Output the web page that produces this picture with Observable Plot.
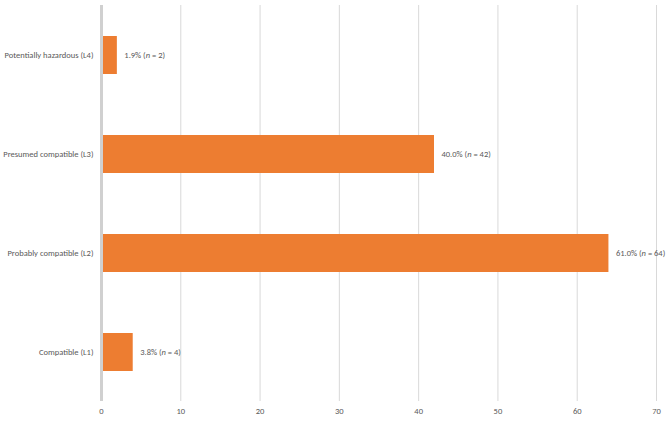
<!DOCTYPE html>
<html><head><meta charset="utf-8">
<script src="https://cdn.jsdelivr.net/npm/d3@7"></script>
<script src="https://cdn.jsdelivr.net/npm/@observablehq/plot@0.6"></script>
<style>body{margin:0;background:#fff}</style>
</head><body><div id="chart"></div>
<script>
const categories = ["Potentially hazardous (L4)", "Presumed compatible (L3)", "Probably compatible (L2)", "Compatible (L1)"];
const counts = [2, 42, 64, 4];
const percents = ["1.9%", "40.0%", "61.0%", "3.8%"];
const xTicks = [0, 10, 20, 30, 40, 50, 60, 70];

const data = categories.map((c, i) => ({cat: c, n: counts[i], label: `${percents[i]} (n = ${counts[i]})`}));
const font = "Carlito, 'Liberation Sans Narrow', 'Liberation Sans', sans-serif";

const chart = Plot.plot({
  width: 669, height: 421,
  marginLeft: 101, marginRight: 13, marginTop: 5, marginBottom: 20,
  style: {fontFamily: font, fontSize: "8.5px", color: "#595959", background: "#fff"},
  x: {domain: [0, 70], ticks: xTicks, tickSize: 0, tickPadding: 6, label: null},
  y: {domain: categories, paddingInner: 0.62, paddingOuter: 0.31, tickSize: 0, tickPadding: 8, label: null},
  marks: [
    Plot.gridX(xTicks.filter(d => d > 0), {stroke: "#d9d9d9", strokeOpacity: 1, strokeWidth: 1}),
    Plot.barX(data, {x: "n", y: "cat", fill: "#ED7D31"}),
    Plot.ruleX([0], {stroke: "#d0d0d0", strokeWidth: 3}),
    Plot.text(data, {x: "n", y: "cat", text: "label", textAnchor: "start", dx: 7, fontSize: 8.5, fill: "#595959", className: "vlabel"})
  ]
});
document.getElementById("chart").appendChild(chart);
// italicize n
d3.select(chart).selectAll(".vlabel text").each(function() {
  const t = d3.select(this);
  const s = t.text();
  const m = s.match(/^(.*\()n( = .*)$/);
  if (!m) return;
  t.text(null);
  t.append("tspan").text(m[1]);
  t.append("tspan").attr("font-style", "italic").text("n");
  t.append("tspan").text(m[2]);
});
</script></body></html>
